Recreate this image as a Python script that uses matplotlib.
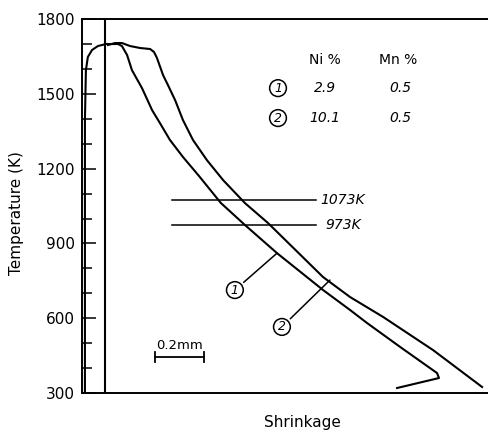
import matplotlib
matplotlib.use("Agg")
import matplotlib.pyplot as plt
from matplotlib.ticker import MultipleLocator

# shrinkage (mm, arbitrary origin) vs temperature (K)
x1 = [0.012, 0.012, 0.016, 0.024, 0.041, 0.065, 0.098, 0.122, 0.147, 0.163, 0.184, 0.204,
      0.245, 0.286, 0.318, 0.359, 0.412, 0.478, 0.567, 0.665, 0.796, 0.984, 1.094, 1.163,
      1.298, 1.449, 1.457, 1.286]
t1 = [300, 1395, 1595, 1648, 1676, 1692, 1700, 1700, 1700, 1692, 1656, 1595,
      1523, 1435, 1383, 1315, 1247, 1170, 1062, 974, 861, 713, 633, 581,
      485, 380, 360, 320]

x2 = [0.106, 0.135, 0.163, 0.196, 0.237, 0.278, 0.294, 0.306, 0.331, 0.351, 0.380, 0.412,
      0.453, 0.510, 0.576, 0.665, 0.759, 0.984, 1.094, 1.229, 1.433, 1.633]
t2 = [1696, 1704, 1704, 1692, 1684, 1680, 1668, 1644, 1575, 1535, 1475, 1395,
      1315, 1234, 1154, 1062, 982, 765, 685, 605, 472, 324]

isotherms = [1073, 973]
iso_labels = ["1073K", "973K"]
ref_x = 0.094

headers = ["Ni %", "Mn %"]
alloys = ["1", "2"]
ni = ["2.9", "10.1"]
mn = ["0.5", "0.5"]

fig = plt.figure(figsize=(4.88, 4.34), dpi=100)
ax = fig.add_axes([0.168, 0.0945, 0.832, 0.8615])

ax.plot(x1, t1, color="black", lw=1.5, solid_joinstyle="round")
ax.plot(x2, t2, color="black", lw=1.5, solid_joinstyle="round")
ax.axvline(ref_x, color="black", lw=1.5)

# isotherm marker lines
for T, lab, xt in zip(isotherms, iso_labels, [0.971, 0.992]):
    ax.plot([0.367, 0.955], [T, T], color="black", lw=1.1)
    ax.text(xt, T, lab, fontsize=10, style="italic", va="center", ha="left")

# curve labels with leader lines
circ = dict(boxstyle="circle,pad=0.15", fc="white", ec="black", lw=1.1)
ax.annotate("1", xy=(0.796, 861), xytext=(0.624, 713), fontsize=9, style="italic",
            ha="center", va="center", bbox=circ,
            arrowprops=dict(arrowstyle="-", color="black", lw=1.1, shrinkA=2, shrinkB=0))
ax.annotate("2", xy=(1.012, 753), xytext=(0.816, 565), fontsize=9, style="italic",
            ha="center", va="center", bbox=circ,
            arrowprops=dict(arrowstyle="-", color="black", lw=1.1, shrinkA=2, shrinkB=0))

# composition table
ax.text(0.992, 1636, headers[0], fontsize=10, ha="center", va="center")
ax.text(1.290, 1636, headers[1], fontsize=10, ha="center", va="center")
for i, (a, n, m) in enumerate(zip(alloys, ni, mn)):
    y = 1523 - i * 120
    ax.text(0.800, y, a, fontsize=9, style="italic", ha="center", va="center", bbox=circ)
    ax.text(0.992, y, n, fontsize=10, style="italic", ha="center", va="center")
    ax.text(1.298, y, m, fontsize=10, style="italic", ha="center", va="center")

# scale bar
ax.plot([0.298, 0.498], [444, 444], color="black", lw=1.3)
ax.plot([0.298, 0.298], [424, 464], color="black", lw=1.3)
ax.plot([0.498, 0.498], [424, 464], color="black", lw=1.3)
ax.text(0.398, 490, "0.2mm", fontsize=9.5, ha="center", va="center")

ax.set_xlim(0, 1.657)
ax.set_ylim(300, 1800)
ax.set_xticks([])
ax.yaxis.set_major_locator(MultipleLocator(300))
ax.yaxis.set_minor_locator(MultipleLocator(100))
ax.tick_params(axis="y", which="major", direction="in", length=10, width=1.1,
               labelsize=11, pad=5)
ax.tick_params(axis="y", which="minor", direction="in", length=7, width=1.1)
ax.spines["right"].set_visible(False)
for s in ["left", "top", "bottom"]:
    ax.spines[s].set_linewidth(1.4)

ax.set_ylabel("Temperature (K)", fontsize=11)
ax.yaxis.set_label_coords(-0.143, 0.481)
ax.text(0.544, -0.078, "Shrinkage", fontsize=11, ha="center", va="center",
        transform=ax.transAxes)

fig.savefig("out.png", dpi=100)
